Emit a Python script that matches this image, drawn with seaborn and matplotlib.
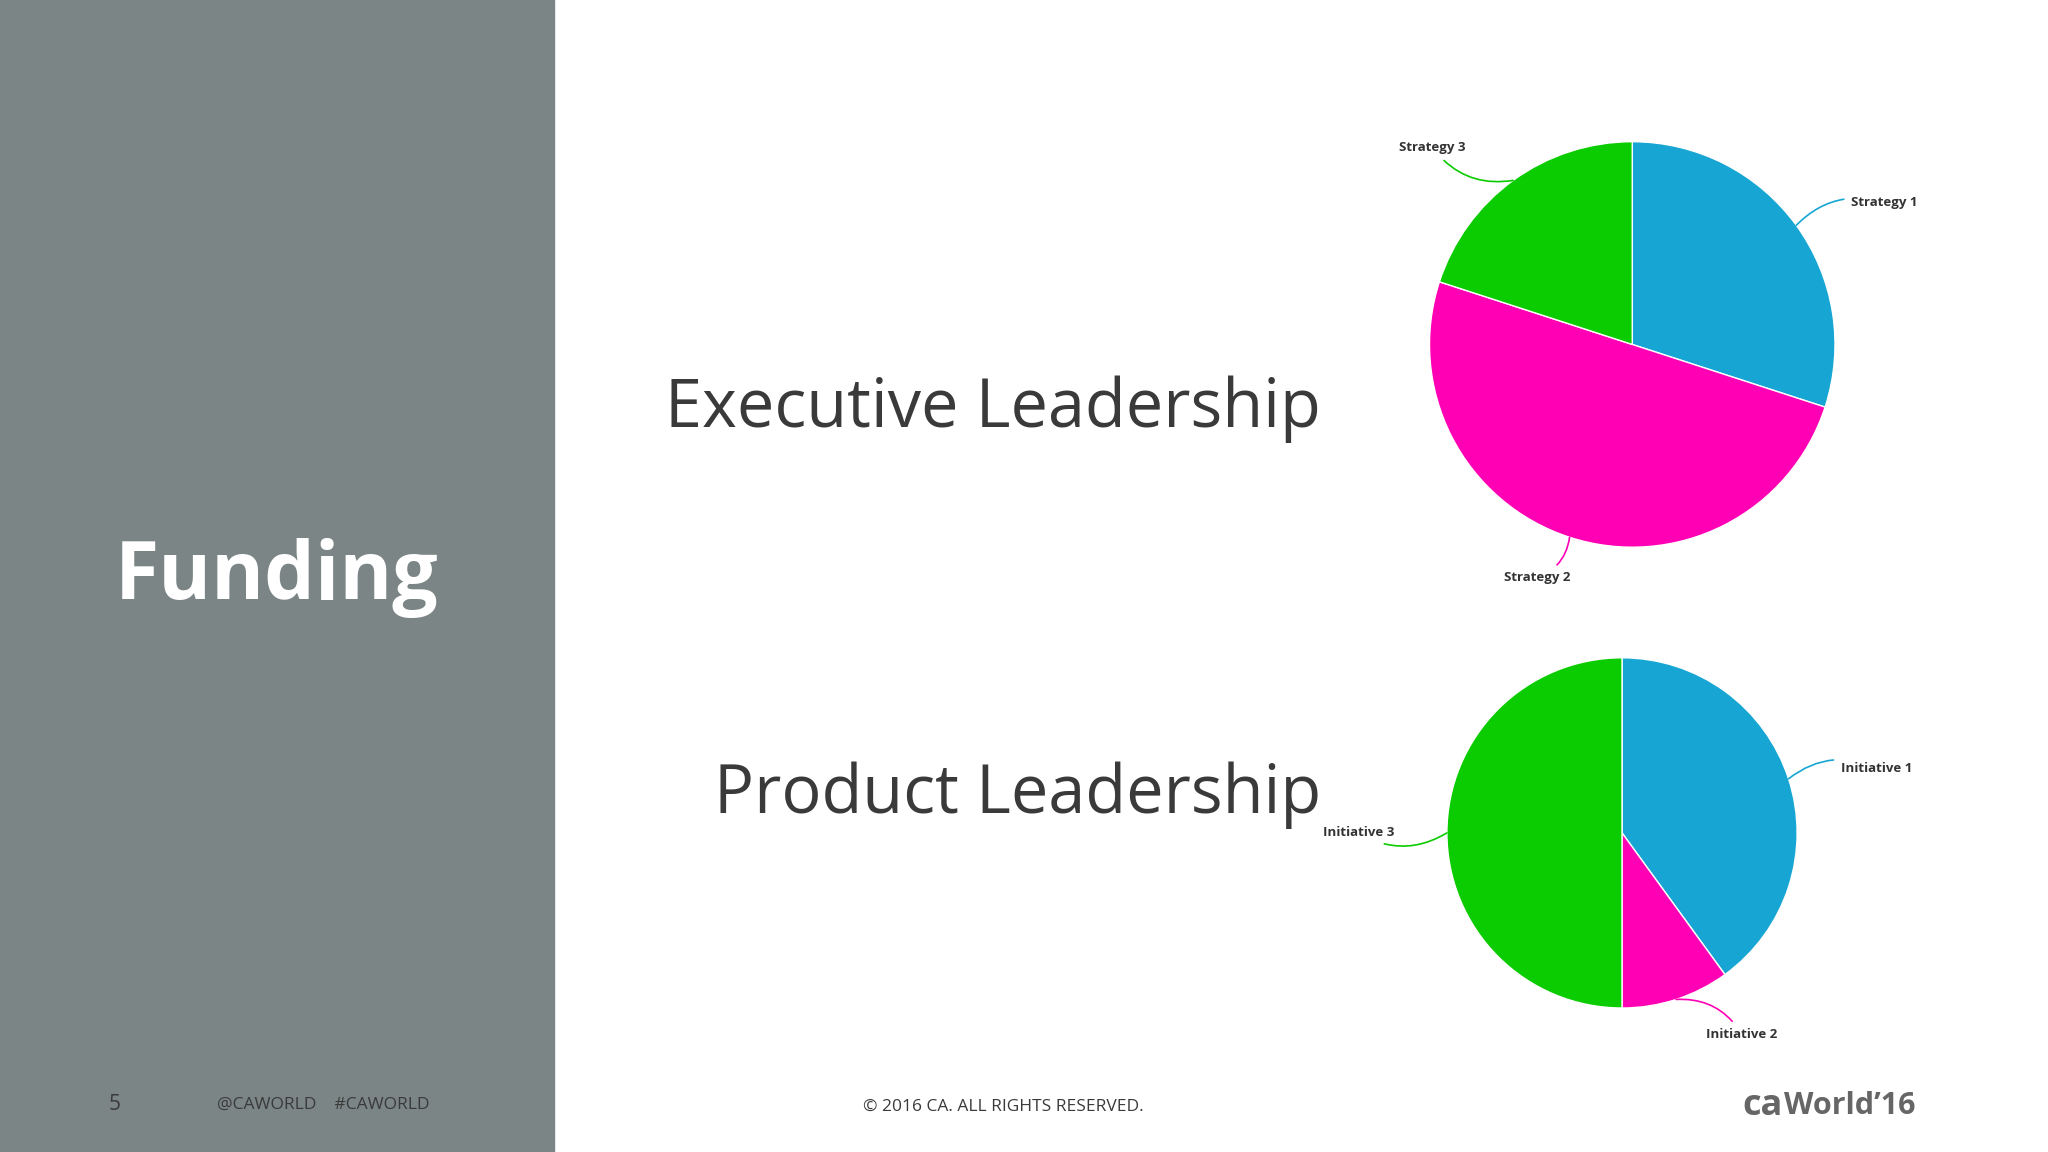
import numpy as np
import matplotlib.pyplot as plt
import seaborn as sns

sns.set_theme(style="white")
plt.rcParams['font.family'] = ['Open Sans', 'DejaVu Sans']

# data
exec_labels = ["Strategy 1", "Strategy 2", "Strategy 3"]
exec_values = [30, 50, 20]
prod_labels = ["Initiative 1", "Initiative 2", "Initiative 3"]
prod_values = [40, 10, 50]
colors = ["#17A6D3", "#FF00B4", "#0ACC00"]

fig = plt.figure(figsize=(20.48, 11.52), dpi=100)
fig.patch.set_facecolor("white")

# grey side panel
fig.add_artist(plt.Rectangle((0, 0), 0.2704, 1, transform=fig.transFigure,
                             color="#7B8585", zorder=0))
fig.text(0.135, 0.498, "Funding", color="white", fontsize=58, fontweight="bold",
         ha="center", va="center")


def draw_pie(rect, values, labels, label_pos, text_ha):
    ax = fig.add_axes(rect)
    wedges, _ = ax.pie(values, colors=colors, startangle=90, counterclock=False,
                       wedgeprops=dict(edgecolor="white", linewidth=1))
    ax.set_xlim(-1, 1)
    ax.set_ylim(-1, 1)
    ax.set_aspect("equal")
    ax.axis("off")
    for w, lab, pos, ha, col in zip(wedges, labels, label_pos, text_ha, colors):
        ang = np.deg2rad((w.theta1 + w.theta2) / 2)
        xy = (np.cos(ang), np.sin(ang))
        ax.annotate(lab, xy=xy, xytext=pos, ha=ha, va="center", fontsize=9.5,
                    fontweight="bold", color="#333333", annotation_clip=False,
                    arrowprops=dict(arrowstyle="-", color=col, lw=1.2,
                                    connectionstyle="arc3,rad=0.3",
                                    shrinkA=3, shrinkB=0))
    return ax


draw_pie([0.797 - 0.099, 0.701 - 0.176, 0.198, 0.352], exec_values, exec_labels,
         [(1.08, 0.70), (-0.47, -1.15), (-0.82, 0.97)], ["left", "center", "right"])
draw_pie([0.792 - 0.0855, 0.277 - 0.152, 0.171, 0.304], prod_values, prod_labels,
         [(1.25, 0.37), (0.48, -1.15), (-1.3, 0.0)], ["left", "left", "right"])

fig.text(0.645, 0.645, "Executive Leadership", fontsize=48, color="#3A3A3A",
         ha="right", va="center")
fig.text(0.645, 0.310, "Product Leadership", fontsize=48, color="#3A3A3A",
         ha="right", va="center")

# footer
fig.text(0.056, 0.041, "5", fontsize=15, color="#3A3A3A", ha="center", va="center")
fig.text(0.106, 0.041, "@CAWORLD    #CAWORLD", fontsize=12.5, color="#3A3A3A",
         ha="left", va="center")
fig.text(0.49, 0.039, "© 2016 CA. ALL RIGHTS RESERVED.", fontsize=12.5,
         color="#3A3A3A", ha="center", va="center")
fig.text(0.851, 0.040, "ca", fontsize=26, fontweight="bold", color="#666666",
         ha="left", va="center")
fig.text(0.871, 0.040, "World’16", fontsize=22, fontweight="bold", color="#666666",
         ha="left", va="center")

fig.savefig("out.png", dpi=100, facecolor="white")
